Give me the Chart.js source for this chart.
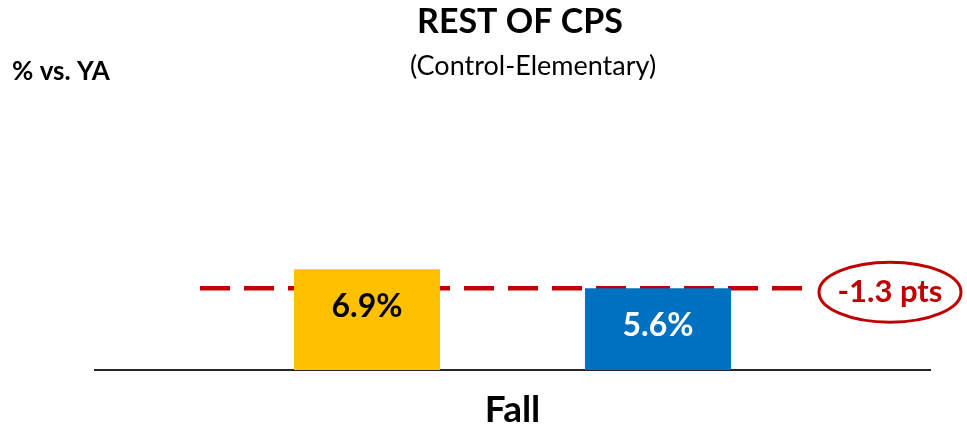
<!DOCTYPE html>
<html>
<head>
<meta charset="utf-8">
<script src="https://cdn.jsdelivr.net/npm/chart.js@4"></script>
<style>
  html, body { margin: 0; padding: 0; background: #fff; }
  #wrap { width: 967px; height: 429px; position: relative; }
</style>
</head>
<body>
<div id="wrap"><canvas id="grafico"></canvas></div>
<script>
// data
const periods = ['Fall'];
const seriesNames = ['Last Year', 'This Year'];
const lastYear = [6.9];
const thisYear = [5.6];
const barColors = ['#FFC000', '#0070C0'];
const labelColors = ['#000000', '#FFFFFF'];

const FONT = 'Lato, "Open Sans", sans-serif';
const RED = '#C00000';

// titles, value labels, dashed reference line, difference bubble
const extras = {
  id: 'extras',
  beforeDatasetsDraw(chart) {
    // dashed line at this year's level, behind the bars
    const ctx = chart.ctx;
    const lineY = chart.scales.y.getPixelForValue(thisYear[0]);
    ctx.save();
    ctx.strokeStyle = RED;
    ctx.lineWidth = 4.5;
    ctx.setLineDash([30, 14]);
    ctx.beginPath();
    ctx.moveTo(200, lineY);
    ctx.lineTo(812, lineY);
    ctx.stroke();
    ctx.restore();
  },
  afterDatasetsDraw(chart) {
    const ctx = chart.ctx;
    const y = chart.scales.y;
    ctx.save();

    // value labels inside bars
    chart.data.datasets.forEach(function(ds, i) {
      chart.getDatasetMeta(i).data.forEach(function(bar, j) {
        ctx.font = 'bold 32px ' + FONT;
        ctx.fillStyle = labelColors[i];
        ctx.textAlign = 'center';
        ctx.textBaseline = 'middle';
        ctx.fillText(ds.data[j].toFixed(1) + '%', bar.x, bar.y + 38);
      });
    });

    // difference ellipse
    const lineY = y.getPixelForValue(thisYear[0]);
    const diff = (thisYear[0] - lastYear[0]).toFixed(1);
    const cx = 890, cy = lineY + 4;
    ctx.strokeStyle = RED;
    ctx.lineWidth = 3;
    ctx.beginPath();
    ctx.ellipse(cx, cy, 71, 30, 0, 0, Math.PI * 2);
    ctx.stroke();
    ctx.fillStyle = RED;
    ctx.font = 'bold 31px ' + FONT;
    ctx.textAlign = 'center';
    ctx.textBaseline = 'middle';
    ctx.fillText(diff + ' pts', cx, cy);

    // titles
    ctx.fillStyle = '#000';
    ctx.font = 'bold 34px ' + FONT;
    ctx.fillText('REST OF CPS', 520, 22);
    ctx.font = '27px ' + FONT;
    ctx.fillText('(Control-Elementary)', 533, 66);
    ctx.font = 'bold 26px ' + FONT;
    ctx.textAlign = 'left';
    ctx.fillText('% vs. YA', 12, 72);

    ctx.restore();
  }
};

const data = {
  labels: periods,
  datasets: [
    { label: seriesNames[0], data: lastYear, backgroundColor: barColors[0] },
    { label: seriesNames[1], data: thisYear, backgroundColor: barColors[1] }
  ]
};

const config = {
  type: 'bar',
  data: data,
  options: {
    responsive: true,
    maintainAspectRatio: false,
    animation: false,
    categoryPercentage: 0.697,
    barPercentage: 0.502,
    layout: { padding: { left: 95, right: 37, top: 107, bottom: 0 } },
    plugins: {
      legend: { display: false },
      tooltip: { enabled: false }
    },
    scales: {
      x: {
        afterFit: function(axis) { axis.height = 59; },
        grid: { display: false, drawTicks: false },
        border: { display: true, color: '#262626', width: 2 },
        ticks: { color: '#000', padding: 18, font: { family: FONT, size: 37, weight: 'bold' } }
      },
      y: {
        display: false,
        min: 0,
        max: 18
      }
    }
  },
  plugins: [extras]
};

const myChart = new Chart(document.getElementById('grafico'), config);
</script>
</body>
</html>
